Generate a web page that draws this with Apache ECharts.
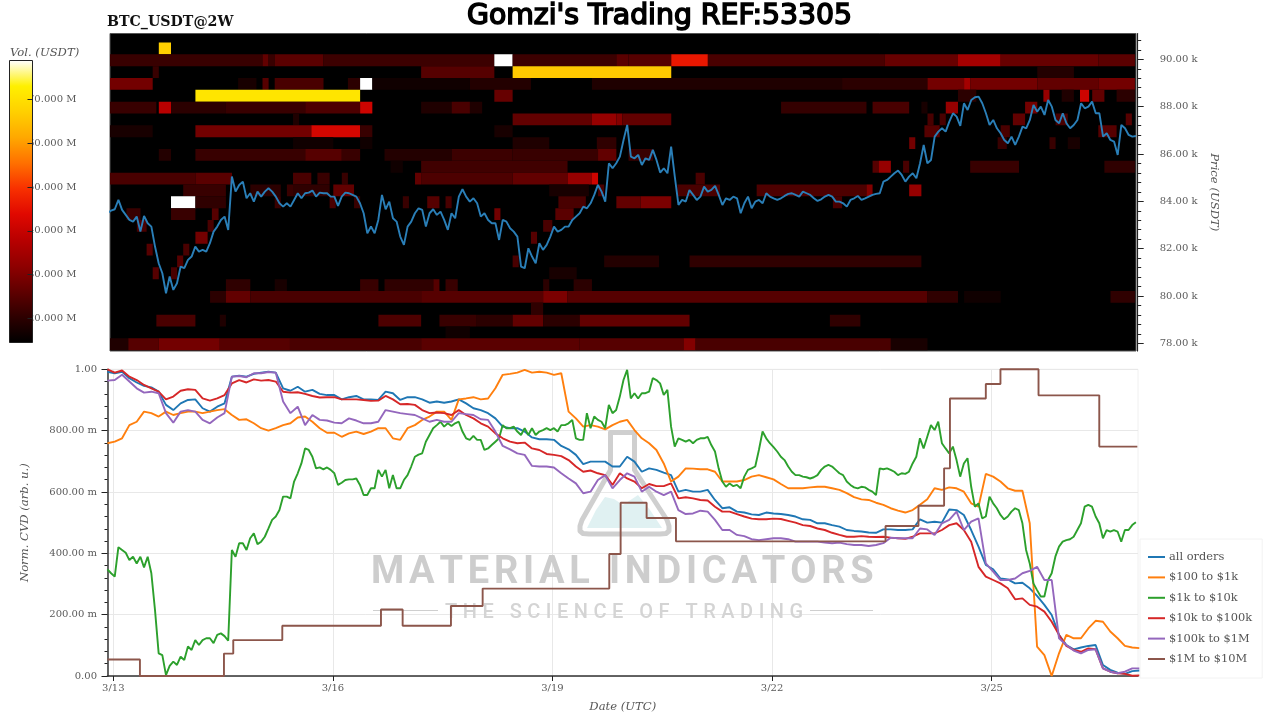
<!DOCTYPE html>
<html>
<head>
<meta charset="utf-8">
<title>BTC_USDT@2W</title>
<script src="https://cdn.jsdelivr.net/npm/echarts@6/dist/echarts.min.js"></script>
<style>
html, body { margin: 0; padding: 0; background: #fff; }
#chart { width: 1280px; height: 720px; }
</style>
</head>
<body>
<div id="chart"></div>
<script>
// x values are days after 3/13 00:00 UTC
var xTickDays = [0, 3, 6, 9, 12];
var xTickLabels = ['3/13', '3/16', '3/19', '3/22', '3/25'];
var priceTicks = [78000, 80000, 82000, 84000, 86000, 88000, 90000];
var priceMinorTicks = [78400, 78800, 79200, 79600, 80400, 80800, 81200, 81600, 82400, 82800, 83200, 83600, 84400, 84800, 85200, 85600, 86400, 86800, 87200, 87600, 88400, 88800, 89200, 89600, 90400, 90800];
var volumeTicks = [20, 30, 40, 50, 60, 70];
var seriesNames = ['all orders', '$100 to $1k', '$1k to $10k', '$10k to $100k', '$100k to $1M', '$1M to $10M'];
var seriesColors = ['#1f77b4', '#ff7f0e', '#2ca02c', '#d62728', '#9467bd', '#8c564b'];
var heatColors = ['#000000', '#2e0000', '#600000', '#900000', '#b80000', '#e00800', '#f83000', '#ff7000', '#ffa800', '#ffd000', '#fff000', '#ffffff'];

// price line, one reading every 0.05 day from day -0.08
var priceValues = [83495, 83608, 83664, 84058, 83636, 83425, 83213, 83143, 83354, 82720, 83382, 83072, 82932, 82087, 81383, 80960, 80116, 80820, 80257, 80538, 81242, 81172, 81524, 81665, 82087, 81876, 81946, 81876, 82228, 82720, 82932, 83213, 83354, 82791, 85044, 84410, 84692, 84832, 84128, 84340, 83988, 84410, 84199, 84410, 84551, 84410, 84199, 83917, 83776, 83917, 83776, 84058, 84340, 84128, 84340, 84368, 84452, 84199, 84368, 84340, 84340, 84199, 84199, 83805, 84199, 84368, 84340, 84269, 84199, 83917, 83495, 82650, 82932, 82650, 83213, 84269, 83664, 83988, 83284, 83143, 82509, 82157, 82932, 83143, 83495, 83706,
  83636, 82932, 83495, 83664, 83425, 83565, 83213, 82791, 83495, 83284, 84199, 84509, 84199, 83988, 84128, 83917, 83354, 83495, 83213, 83072, 83072, 82368, 83213, 83143, 82861, 82720, 82509, 81242, 81172, 82016, 81665, 81383, 82228, 81946, 82157, 82509, 82932, 82720, 82791, 82932, 82932, 83213, 83354, 83495, 83776, 83706, 83917, 84269, 84692, 84410, 83988, 85607, 85395, 85607, 85888, 86592, 87226, 85888, 85818, 85959, 85536, 85818, 85748, 86170, 85748, 85213, 85395, 85184, 86311, 85044, 83847, 84058, 83988, 84480, 84269, 84058, 84199, 84621, 84410, 84480, 84649, 84269, 83847, 84128, 84058, 84199, 84128, 83495, 83917, 84199, 83706, 83988, 84058, 83917, 84340, 84199, 84128, 84058, 84128, 84227, 84312, 84340, 84269, 84199, 84410, 84340, 84269, 84128, 84016, 84086, 84199, 84269, 84199, 83988, 83988,
  83917, 83776, 84058, 84128, 84227, 84058, 84128, 84199, 84269, 84312, 84340, 84832, 84903, 85044, 85184, 85297, 85114, 84832, 85044, 85184, 84973, 85607, 86381, 85607, 85748, 86733, 86944, 87085, 86944, 87367, 87719, 87578, 87184, 88141, 87860, 88282, 88395, 88423, 88141, 87719, 87226, 87437, 87085, 86874, 86592, 86452, 86733, 86381, 86733, 87155, 87085, 87437, 88071, 87789, 88000, 87648, 88282, 88000, 87437, 87296, 87719, 87296, 87085, 87226, 87437, 88141, 87930, 88000, 88212, 87719, 87719, 86733, 86874, 86592, 86522, 85959, 87226, 87085, 86804, 86733, 86760];

// heat map bands: price bin, first 2 h column, end 2 h column, volume in M USDT
var heatBands = [
  [90500, 8, 10, 67],
  [90000, 0, 25, 21.5], [90000, 25, 26, 26.5], [90000, 26, 27, 21.5], [90000, 27, 35, 25.5], [90000, 35, 63, 22], [90000, 63, 66, 79], [90000, 66, 83, 22], [90000, 83, 85, 25.5], [90000, 85, 92, 25], [90000, 92, 98, 46], [90000, 98, 127, 23.5], [90000, 127, 139, 27], [90000, 139, 146, 35], [90000, 146, 162, 27], [90000, 162, 168, 25.5],
  [89500, 7, 8, 21.5], [89500, 51, 63, 25], [89500, 66, 92, 66], [89500, 152, 158, 19],
  [89000, 0, 7, 28.5], [89000, 21, 24, 17.5], [89000, 25, 26, 25], [89000, 27, 35, 23.5], [89000, 39, 41, 20], [89000, 41, 43, 79], [89000, 43, 59, 16.5], [89000, 59, 69, 19], [89000, 79, 120, 18.5], [89000, 120, 134, 20], [89000, 134, 140, 28.5], [89000, 140, 141, 35], [89000, 141, 152, 28.5], [89000, 152, 162, 26.5], [89000, 162, 168, 28.5],
  [88500, 14, 41, 71], [88500, 63, 66, 27], [88500, 139, 142, 20], [88500, 153, 154, 33], [88500, 156, 158, 18.5], [88500, 159, 160.5, 41], [88500, 161, 163, 26.5], [88500, 165, 168, 20],
  [88000, 0, 7.6, 21.5], [88000, 8, 10, 38], [88000, 10, 19, 20], [88000, 19, 32, 21.5], [88000, 32, 41, 24], [88000, 41, 43, 41], [88000, 51, 56, 18.5], [88000, 56, 59, 23.5], [88000, 59, 61, 18.5], [88000, 110, 124, 21], [88000, 125, 131, 23.5], [88000, 133, 134, 17.5], [88000, 137, 139, 33], [88000, 150, 152, 28.5],
  [87500, 30, 31, 18.5], [87500, 66, 79, 26.5], [87500, 79, 83, 33], [87500, 83, 84, 30.5], [87500, 84, 92, 26.5], [87500, 134, 135, 23.5], [87500, 136, 137, 23.5], [87500, 148, 150, 26.5], [87500, 155, 157, 23.5], [87500, 166.5, 167.5, 25],
  [87000, 0, 7, 17.5], [87000, 14, 33, 28.5], [87000, 33, 41, 42], [87000, 41, 43, 21.5], [87000, 63, 66, 17.5], [87000, 133.5, 136, 25], [87000, 146, 147.5, 23.5], [87000, 162, 165, 25],
  [86500, 30, 36.6, 16.5], [86500, 41, 43, 16.5], [86500, 66, 72, 18.5], [86500, 79.8, 83, 20.5], [86500, 131, 132, 28.5], [86500, 145.5, 147, 21.5], [86500, 154, 155, 21.5], [86500, 157, 159, 17.5],
  [86000, 8, 10, 19], [86000, 14, 32, 21.5], [86000, 32, 38, 25], [86000, 38, 41, 21.5], [86000, 45, 56, 19], [86000, 56, 66, 22], [86000, 66, 80, 21.5], [86000, 80, 83, 26.5], [86000, 85, 89, 21.5],
  [85500, 46, 48, 16.5], [85500, 51, 75, 22.5], [85500, 125, 126, 25], [85500, 126, 128, 33], [85500, 130, 131, 23.5], [85500, 141, 149, 21.5], [85500, 163, 168, 20.5],
  [85000, 0, 14, 23.5], [85000, 14, 20, 25.5], [85000, 30, 33, 23.5], [85000, 34, 36, 21.5], [85000, 38, 39, 21.5], [85000, 50, 51, 26.5], [85000, 51, 66, 24], [85000, 66, 75, 26.5], [85000, 75, 79, 33], [85000, 79, 80, 41], [85000, 96, 97.5, 23.5],
  [84500, 12, 19, 21.5], [84500, 23, 28, 20], [84500, 29, 30, 21.5], [84500, 30, 36, 20.5], [84500, 36.6, 40, 26.5], [84500, 72, 78.5, 17.5], [84500, 80, 81, 23.5], [84500, 93, 100, 23.5], [84500, 106, 124, 24], [84500, 124, 125, 30.5], [84500, 131, 133, 33],
  [84000, 10, 14, 79], [84000, 14, 19, 20.5], [84000, 27, 28, 21.5], [84000, 36, 37, 23.5], [84000, 40, 41, 21.5], [84000, 48, 49, 21.5], [84000, 52, 54, 25], [84000, 55, 56, 23.5], [84000, 73.5, 78, 23.5], [84000, 83, 87, 26.5], [84000, 87, 92, 29.5], [84000, 118.5, 120, 23.5],
  [83500, 2.7, 5, 21.5], [83500, 10, 14, 21.5], [83500, 16.7, 17.8, 25], [83500, 63, 64, 28.5], [83500, 73, 76, 25.5],
  [83000, 4.4, 6, 23.5], [83000, 16, 17, 23.5], [83000, 71, 72.5, 23.5],
  [82500, 14, 16, 28.5], [82500, 69, 70, 25],
  [82000, 6, 7, 25], [82000, 12, 13, 23.5],
  [81500, 11, 12, 25], [81500, 66, 67, 23.5], [81500, 81, 90, 19], [81500, 95, 133, 20.5],
  [81000, 7, 8, 25], [81000, 10, 11, 23.5], [81000, 72, 76.5, 17.5],
  [80500, 19, 23, 20.5], [80500, 27, 29, 17.5], [80500, 41, 44, 21.5], [80500, 45, 53, 20.5], [80500, 53, 54, 25], [80500, 55, 57, 21.5], [80500, 71, 72, 20], [80500, 76, 79, 20],
  [80000, 16.4, 19, 20], [80000, 19, 23, 26.5], [80000, 23, 51, 23.5], [80000, 51, 71, 25], [80000, 71, 75, 29.5], [80000, 75, 134, 25], [80000, 134, 139, 20.5], [80000, 140, 146, 16.5], [80000, 164, 168, 20.5],
  [79500, 69, 71, 20.5],
  [79000, 7.6, 14, 23.5], [79000, 18, 19, 18.5], [79000, 44, 51, 24], [79000, 54, 60, 21.5], [79000, 60, 66, 20], [79000, 66, 71, 26.5], [79000, 71, 77, 20], [79000, 77, 95, 26.5], [79000, 118, 123, 20.5],
  [78500, 55, 59, 16.5],
  [78000, 0, 3, 18.5], [78000, 3, 8, 25], [78000, 8, 18, 28.5], [78000, 18, 29.5, 25], [78000, 29.5, 51, 23.5], [78000, 51, 77, 25.5], [78000, 77, 94, 25], [78000, 94, 96, 30.5], [78000, 96, 128, 23.5], [78000, 128, 134, 17.5]
];

// normalised CVD, one reading every 0.1 day from day -0.08 (the $1k to $10k one every 0.05 day)
var allOrders = [0.992, 0.987, 0.992, 0.971, 0.957, 0.946, 0.941, 0.927, 0.884, 0.867, 0.889, 0.900, 0.902, 0.873, 0.862, 0.878, 0.889, 0.976, 0.979, 0.976, 0.985, 0.989, 0.992, 0.989, 0.938, 0.930, 0.943, 0.927, 0.933, 0.920, 0.916, 0.916, 0.902, 0.909, 0.913, 0.902, 0.902, 0.900, 0.927, 0.922, 0.900, 0.909, 0.909,
  0.902, 0.891, 0.895, 0.891, 0.895, 0.902, 0.889, 0.873, 0.867, 0.857, 0.840, 0.813, 0.808, 0.808, 0.797, 0.778, 0.772, 0.772, 0.770, 0.750, 0.739, 0.721, 0.691, 0.699, 0.699, 0.699, 0.683, 0.683, 0.715, 0.699, 0.666, 0.677, 0.672, 0.663, 0.655, 0.601, 0.607, 0.601, 0.601, 0.607, 0.574, 0.547, 0.550, 0.536, 0.533, 0.527, 0.525, 0.533, 0.530, 0.528, 0.525, 0.520, 0.511, 0.509, 0.498, 0.498, 0.492,
  0.487, 0.476, 0.473, 0.471, 0.468, 0.467, 0.478, 0.478, 0.476, 0.476, 0.478, 0.511, 0.500, 0.503, 0.500, 0.543, 0.541, 0.525, 0.476, 0.422, 0.362, 0.348, 0.318, 0.315, 0.302, 0.304, 0.286, 0.261, 0.232, 0.199, 0.134, 0.101, 0.087, 0.093, 0.098, 0.101, 0.036, 0.020, 0.011, 0.007, 0.016, 0.018];
var orders100to1k = [0.759, 0.764, 0.775, 0.818, 0.829, 0.862, 0.857, 0.846, 0.862, 0.851, 0.857, 0.862, 0.862, 0.857, 0.862, 0.867, 0.870, 0.851, 0.835, 0.837, 0.824, 0.808, 0.800, 0.808, 0.818, 0.824, 0.843, 0.846, 0.829, 0.808, 0.793, 0.793, 0.780, 0.791, 0.797, 0.789, 0.797, 0.808, 0.808, 0.775, 0.770, 0.808, 0.818,
  0.835, 0.846, 0.862, 0.862, 0.835, 0.902, 0.905, 0.909, 0.902, 0.905, 0.938, 0.982, 0.985, 0.989, 0.998, 0.989, 0.992, 0.989, 0.982, 0.987, 0.862, 0.840, 0.813, 0.818, 0.813, 0.804, 0.818, 0.829, 0.835, 0.802, 0.775, 0.759, 0.737, 0.693, 0.634, 0.650, 0.677, 0.676, 0.674, 0.674, 0.666, 0.634, 0.634, 0.634, 0.639, 0.650, 0.655, 0.648, 0.641, 0.626, 0.612, 0.612, 0.612, 0.615, 0.617, 0.617, 0.612,
  0.607, 0.596, 0.583, 0.576, 0.574, 0.565, 0.558, 0.547, 0.539, 0.533, 0.541, 0.558, 0.576, 0.612, 0.607, 0.615, 0.612, 0.601, 0.563, 0.552, 0.659, 0.650, 0.634, 0.612, 0.604, 0.604, 0.498, 0.096, 0.068, 0.000, 0.074, 0.134, 0.123, 0.123, 0.155, 0.180, 0.177, 0.145, 0.123, 0.098, 0.093, 0.091];
var orders1kto10k = [0.348, 0.335, 0.324, 0.420, 0.411, 0.402, 0.378, 0.389, 0.367, 0.389, 0.354, 0.389, 0.335, 0.215, 0.074, 0.068, 0.003, 0.033, 0.047, 0.036, 0.063, 0.052, 0.096, 0.085, 0.117, 0.101, 0.117, 0.123, 0.123, 0.107, 0.134, 0.139, 0.130, 0.115, 0.411, 0.389, 0.433, 0.433, 0.411, 0.449, 0.465, 0.430, 0.438, 0.454, 0.481, 0.509, 0.520, 0.541, 0.585, 0.585, 0.579, 0.634, 0.661, 0.693, 0.742, 0.737, 0.715, 0.677, 0.680, 0.674, 0.680, 0.672, 0.661, 0.623, 0.630, 0.639, 0.641, 0.641, 0.644, 0.623, 0.590, 0.590, 0.612, 0.612, 0.672, 0.650, 0.672, 0.612, 0.655, 0.612, 0.612, 0.639, 0.655, 0.683, 0.715, 0.722,
  0.726, 0.764, 0.786, 0.808, 0.818, 0.829, 0.813, 0.824, 0.815, 0.824, 0.829, 0.797, 0.775, 0.770, 0.783, 0.770, 0.770, 0.737, 0.742, 0.753, 0.764, 0.775, 0.818, 0.808, 0.808, 0.813, 0.797, 0.786, 0.808, 0.786, 0.808, 0.786, 0.797, 0.802, 0.808, 0.802, 0.808, 0.797, 0.818, 0.818, 0.824, 0.835, 0.775, 0.770, 0.770, 0.857, 0.808, 0.846, 0.835, 0.829, 0.808, 0.884, 0.857, 0.867, 0.911, 0.965, 0.998, 0.905, 0.922, 0.905, 0.922, 0.922, 0.927, 0.971, 0.965, 0.954, 0.916, 0.933, 0.813, 0.748, 0.775, 0.770, 0.764, 0.770, 0.759, 0.770, 0.775, 0.775, 0.780, 0.753, 0.732, 0.677, 0.634, 0.617, 0.628, 0.619, 0.623, 0.612, 0.650, 0.672, 0.677, 0.683, 0.737, 0.797, 0.775, 0.759, 0.746, 0.732, 0.715, 0.704, 0.683, 0.666, 0.655, 0.655, 0.650, 0.648, 0.644, 0.648, 0.655, 0.672, 0.683, 0.688, 0.683, 0.672, 0.661,
  0.655, 0.634, 0.623, 0.615, 0.612, 0.617, 0.615, 0.607, 0.601, 0.590, 0.677, 0.674, 0.677, 0.672, 0.666, 0.655, 0.661, 0.659, 0.666, 0.693, 0.715, 0.775, 0.742, 0.780, 0.818, 0.802, 0.829, 0.759, 0.742, 0.726, 0.748, 0.704, 0.650, 0.693, 0.710, 0.617, 0.552, 0.563, 0.514, 0.520, 0.585, 0.563, 0.547, 0.525, 0.511, 0.520, 0.536, 0.547, 0.541, 0.498, 0.411, 0.367, 0.302, 0.280, 0.259, 0.259, 0.313, 0.335, 0.389, 0.422, 0.438, 0.443, 0.446, 0.454, 0.476, 0.498, 0.552, 0.558, 0.552, 0.520, 0.498, 0.449, 0.476, 0.471, 0.476, 0.471, 0.438, 0.476, 0.476, 0.492, 0.501];
var orders10kto100k = [1.000, 0.989, 0.996, 0.976, 0.965, 0.949, 0.938, 0.927, 0.902, 0.911, 0.930, 0.935, 0.933, 0.905, 0.898, 0.905, 0.916, 0.954, 0.965, 0.957, 0.967, 0.963, 0.965, 0.960, 0.927, 0.924, 0.925, 0.920, 0.913, 0.908, 0.909, 0.909, 0.902, 0.902, 0.902, 0.900, 0.897, 0.898, 0.913, 0.902, 0.886, 0.887, 0.884,
  0.867, 0.857, 0.859, 0.857, 0.851, 0.867, 0.851, 0.840, 0.824, 0.813, 0.791, 0.775, 0.764, 0.759, 0.761, 0.742, 0.737, 0.724, 0.721, 0.717, 0.704, 0.683, 0.666, 0.670, 0.661, 0.655, 0.623, 0.661, 0.644, 0.634, 0.612, 0.626, 0.619, 0.619, 0.628, 0.579, 0.583, 0.579, 0.574, 0.572, 0.552, 0.536, 0.536, 0.528, 0.520, 0.513, 0.511, 0.511, 0.513, 0.512, 0.506, 0.500, 0.492, 0.489, 0.481, 0.476, 0.467,
  0.460, 0.454, 0.454, 0.456, 0.454, 0.453, 0.454, 0.451, 0.449, 0.447, 0.454, 0.465, 0.465, 0.465, 0.476, 0.492, 0.498, 0.476, 0.438, 0.356, 0.324, 0.313, 0.302, 0.286, 0.250, 0.253, 0.232, 0.226, 0.210, 0.177, 0.134, 0.098, 0.085, 0.079, 0.090, 0.087, 0.025, 0.014, 0.009, 0.007, 0.001, 0.002];
var orders100kto1M = [0.963, 0.965, 0.982, 0.960, 0.938, 0.924, 0.927, 0.922, 0.857, 0.826, 0.862, 0.867, 0.862, 0.835, 0.824, 0.843, 0.857, 0.976, 0.978, 0.974, 0.987, 0.987, 0.991, 0.989, 0.895, 0.857, 0.878, 0.818, 0.851, 0.835, 0.833, 0.826, 0.824, 0.840, 0.833, 0.824, 0.824, 0.829, 0.867, 0.862, 0.857, 0.854, 0.851,
  0.840, 0.829, 0.835, 0.829, 0.829, 0.857, 0.854, 0.851, 0.837, 0.835, 0.797, 0.750, 0.739, 0.726, 0.721, 0.685, 0.683, 0.683, 0.680, 0.661, 0.644, 0.628, 0.596, 0.601, 0.639, 0.655, 0.612, 0.639, 0.661, 0.650, 0.601, 0.617, 0.601, 0.590, 0.601, 0.541, 0.528, 0.530, 0.539, 0.536, 0.509, 0.476, 0.476, 0.460, 0.456, 0.446, 0.443, 0.446, 0.449, 0.449, 0.446, 0.438, 0.438, 0.438, 0.438, 0.435, 0.433,
  0.435, 0.430, 0.427, 0.427, 0.424, 0.427, 0.433, 0.451, 0.449, 0.449, 0.449, 0.481, 0.478, 0.460, 0.498, 0.509, 0.536, 0.476, 0.503, 0.514, 0.367, 0.340, 0.313, 0.313, 0.318, 0.335, 0.343, 0.356, 0.313, 0.313, 0.123, 0.101, 0.083, 0.074, 0.085, 0.087, 0.025, 0.014, 0.009, 0.014, 0.025, 0.025];

// $1M to $10M only moves in steps: day of each step and level after it
var whaleDays = [-0.08, 0.364, 1.512, 1.639, 2.309, 3.657, 3.953, 4.613, 5.046, 6.776, 6.931, 7.286, 7.687, 10.55, 11.0, 11.35, 11.43, 11.92, 12.12, 12.64, 13.47, 13.99];
var whaleValues = [0.054, 0, 0.073, 0.117, 0.164, 0.217, 0.164, 0.228, 0.285, 0.398, 0.565, 0.515, 0.439, 0.489, 0.555, 0.677, 0.905, 0.952, 1.0, 0.915, 0.748, 0.748];

var heatStartDay = -0.045;
var heatBinShift = -40;
var volumeMin = 14.5;
var volumeMax = 78.9;

var withDays = function(values, startDay, stepDay) {
    var rows = [];
    for (var i = 0; i < values.length; i++) {
        rows.push([startDay + i * stepDay, values[i]]);
    }
    return rows;
};

var heatItem = function(params, api) {
    var p0 = api.coord([api.value(0), api.value(2) + 250]);
    var p1 = api.coord([api.value(1), api.value(2) - 250]);
    return {
        type: 'rect',
        shape: { x: p0[0], y: p0[1], width: p1[0] - p0[0], height: p1[1] - p0[1] },
        style: { fill: api.visual('color') }
    };
};

var barItem = function(params, api) {
    var p0 = api.coord([0, volumeMax]);
    var p1 = api.coord([1, volumeMin]);
    var stops = heatColors.map(function(c, i) {
        return { offset: i / (heatColors.length - 1), color: c };
    });
    return {
        type: 'rect',
        shape: { x: p0[0], y: p0[1], width: p1[0] - p0[0], height: p1[1] - p0[1] },
        style: { fill: new echarts.graphic.LinearGradient(0, 1, 0, 0, stops) }
    };
};

var heatData = heatBands.map(function(b) {
    return [heatStartDay + b[1] / 12, heatStartDay + b[2] / 12, b[0] + heatBinShift, b[3]];
});

// watermark text needs letter spacing, zrender has none so place it letter by letter
var measure = document.createElement('canvas').getContext('2d');
var spacedText = function(str, left, y, font, spacing, color) {
    var out = [];
    var x = left;
    measure.font = font;
    str.split('').forEach(function(ch) {
        out.push({ type: 'text', x: x, y: y, silent: true, z: 1, style: { text: ch, font: font, fill: color, textVerticalAlign: 'middle' } });
        x += measure.measureText(ch).width + spacing;
    });
    return out;
};

var flaskPoints = [[610.5, 432.5], [634.5, 432.5], [634.5, 470], [667, 520], [669, 526], [669, 531], [666, 533.5], [660, 534], [589, 534], [583, 533.5], [580, 531], [580, 526], [582, 520], [610.5, 470]];
var flaskHills = [[587, 528], [596, 510], [605, 497], [614, 499], [623, 505], [638, 495], [650, 510], [662, 528]];

var watermark = [
    { type: 'polygon', silent: true, z: 1, shape: { points: flaskHills }, style: { fill: '#e0f1f2' } },
    { type: 'polygon', silent: true, z: 1, shape: { points: flaskPoints }, style: { fill: 'none', stroke: '#cfcfcf', lineWidth: 5, lineJoin: 'round' } },
    { type: 'line', silent: true, z: 1, shape: { x1: 373, y1: 610.5, x2: 438, y2: 610.5 }, style: { stroke: '#cfcfcf', lineWidth: 1 } },
    { type: 'line', silent: true, z: 1, shape: { x1: 810, y1: 610.5, x2: 873, y2: 610.5 }, style: { stroke: '#cfcfcf', lineWidth: 1 } }
].concat(
    spacedText('MATERIAL INDICATORS', 371, 573, 'bold 38px Roboto', 4.8, '#cdcdcd'),
    spacedText('THE SCIENCE OF TRADING', 445, 612.5, '500 20px Roboto', 5.5, '#d4d4d4')
);

var serifText = { fontFamily: 'DejaVu Serif', fontSize: 10, color: '#5a5a5a' };
var axisName = { fontFamily: 'DejaVu Serif', fontSize: 11.6, fontStyle: 'italic', fontWeight: 'normal', color: '#555' };

var cvdStepDays = [0.1, 0.1, 0.05, 0.1, 0.1];
var cvdSeries = [allOrders, orders100to1k, orders1kto10k, orders10kto100k, orders100kto1M].map(function(values, i) {
    return {
        name: seriesNames[i],
        type: 'line',
        xAxisIndex: 1,
        yAxisIndex: 2,
        showSymbol: false,
        clip: false,
        z: 3,
        data: withDays(values, -0.08, cvdStepDays[i]),
        lineStyle: { width: 1.9, color: seriesColors[i] },
        itemStyle: { color: seriesColors[i] }
    };
});

var option = {
    animation: false,
    backgroundColor: '#fff',
    textStyle: { fontFamily: 'DejaVu Serif' },
    title: [
        { text: "Gomzi's Trading REF:53305", left: 467, top: 3, padding: 0, textStyle: { fontFamily: 'DejaVu Sans', fontSize: 28.3, fontWeight: 'normal', color: '#000', textBorderColor: '#000', textBorderWidth: 1.6 } },
        { text: 'BTC_USDT@2W', left: 107, top: 15, padding: 0, textStyle: { fontFamily: 'DejaVu Serif', fontSize: 14.2, fontWeight: 'bold', color: '#111' } },
        { text: 'Vol. (USDT)', left: 10, top: 47, padding: 0, textStyle: axisName }
    ],
    legend: {
        orient: 'vertical',
        left: 1140,
        top: 539,
        data: seriesNames,
        icon: 'rect',
        itemWidth: 17,
        itemHeight: 2,
        itemGap: 6.4,
        padding: [11, 10, 12, 8],
        borderColor: '#f2f2f2',
        borderWidth: 1,
        backgroundColor: '#fff',
        itemStyle: { borderWidth: 0 },
        textStyle: { fontFamily: 'DejaVu Serif', fontSize: 11.4, color: '#555', lineHeight: 14, padding: [0, 0, 0, -1] }
    },
    grid: [
        { left: 110, width: 1026, top: 33.5, height: 317.5, show: true, backgroundColor: '#000', borderColor: '#555', borderWidth: 1 },
        { left: 107.5, width: 1030.5, top: 369.3, height: 306.7, show: true, backgroundColor: 'transparent', borderColor: '#f0f0f0', borderWidth: 1 },
        { left: 9.5, width: 23, top: 60.5, height: 282, show: true, backgroundColor: 'transparent', borderColor: '#222', borderWidth: 1, z: 4 }
    ],
    xAxis: [
        { type: 'value', gridIndex: 0, min: heatStartDay, max: 13.97, show: false },
        {
            type: 'value', gridIndex: 1, min: -0.079, max: 13.999,
            name: 'Date (UTC)', nameLocation: 'middle', nameGap: 25, nameTextStyle: axisName,
            axisLine: { onZero: false, lineStyle: { color: '#333', width: 1.5 } },
            axisTick: { length: 5, customValues: xTickDays, lineStyle: { color: '#222' } },
            axisLabel: {
                customValues: xTickDays, margin: 7, fontFamily: serifText.fontFamily, fontSize: serifText.fontSize, color: serifText.color,
                formatter: function(v) { return xTickLabels[xTickDays.indexOf(v)]; }
            },
            splitLine: { show: true, lineStyle: { color: '#e8e8e8' } }
        },
        { type: 'value', gridIndex: 2, min: 0, max: 1, show: false }
    ],
    yAxis: [
        {
            type: 'value', gridIndex: 0, position: 'right', offset: 1.7, min: 77675, max: 91090,
            name: 'Price (USDT)', nameLocation: 'middle', nameRotate: -90, nameGap: 69, nameTextStyle: axisName,
            axisLine: { show: true, onZero: false, lineStyle: { color: '#222', width: 1.2 } },
            axisTick: { show: true, length: 6, customValues: priceTicks, lineStyle: { color: '#222' } },
            axisLabel: {
                customValues: priceTicks, margin: 22, fontFamily: serifText.fontFamily, fontSize: serifText.fontSize, color: serifText.color,
                formatter: function(v) { return (v / 1000).toFixed(2) + ' k'; }
            },
            splitLine: { show: false }
        },
        {
            type: 'value', gridIndex: 0, position: 'right', offset: 1.7, min: 77675, max: 91090,
            axisLine: { show: false, onZero: false },
            axisTick: { show: true, length: 3.5, customValues: priceMinorTicks, lineStyle: { color: '#222' } },
            axisLabel: { show: false },
            splitLine: { show: false }
        },
        {
            type: 'value', gridIndex: 1, position: 'left', min: 0, max: 1, interval: 0.2,
            name: 'Norm. CVD (arb. u.)', nameLocation: 'middle', nameGap: 77, nameTextStyle: axisName,
            axisLine: { show: true, onZero: false, lineStyle: { color: '#333', width: 1.5 } },
            axisTick: { show: true, length: 6, lineStyle: { color: '#222' } },
            minorTick: { show: true, splitNumber: 5, length: 3, lineStyle: { color: '#222' } },
            axisLabel: {
                margin: 10.5, fontFamily: serifText.fontFamily, fontSize: serifText.fontSize, color: serifText.color,
                formatter: function(v) {
                    if (v === 0 || v === 1) { return v.toFixed(2); }
                    return (v * 1000).toFixed(2) + ' m';
                }
            },
            splitLine: { show: true, lineStyle: { color: '#e8e8e8' } }
        },
        {
            type: 'value', gridIndex: 2, position: 'right', min: volumeMin, max: volumeMax, z: 0,
            axisLine: { show: false, onZero: false },
            axisTick: { show: false },
            axisLabel: {
                customValues: volumeTicks, margin: -4.5, fontFamily: serifText.fontFamily, fontSize: serifText.fontSize, color: serifText.color,
                formatter: function(v) { return v.toFixed(3) + ' M'; }
            },
            splitLine: { show: false }
        },
        {
            type: 'value', gridIndex: 2, position: 'right', min: volumeMin, max: volumeMax, z: 5,
            axisLine: { show: false, onZero: false },
            axisTick: { show: true, inside: true, length: 5, customValues: volumeTicks, lineStyle: { color: '#222' } },
            axisLabel: { show: false },
            splitLine: { show: false }
        }
    ],
    visualMap: {
        show: false,
        type: 'continuous',
        seriesIndex: 0,
        dimension: 3,
        min: volumeMin,
        max: volumeMax,
        inRange: { color: heatColors }
    },
    graphic: { elements: watermark },
    series: [
        { type: 'custom', name: 'heat', xAxisIndex: 0, yAxisIndex: 0, clip: true, z: 2, silent: true, encode: { x: [0, 1], y: 2 }, renderItem: heatItem, data: heatData },
        { type: 'custom', name: 'bar', xAxisIndex: 2, yAxisIndex: 4, z: 3, silent: true, renderItem: barItem, data: [[0, volumeMin]] },
        { type: 'line', name: 'price', xAxisIndex: 0, yAxisIndex: 0, showSymbol: false, clip: false, z: 4, data: withDays(priceValues, -0.08, 0.05), lineStyle: { width: 1.9, color: '#2a7fb8' } }
    ].concat(cvdSeries, [
        {
            name: seriesNames[5], type: 'line', step: 'end', xAxisIndex: 1, yAxisIndex: 2, showSymbol: false, clip: false, z: 3,
            data: whaleDays.map(function(d, i) { return [d, whaleValues[i]]; }),
            lineStyle: { width: 1.9, color: seriesColors[5] },
            itemStyle: { color: seriesColors[5] }
        }
    ])
};

var chart = echarts.init(document.getElementById('chart'));
chart.setOption(option);
</script>
</body>
</html>
